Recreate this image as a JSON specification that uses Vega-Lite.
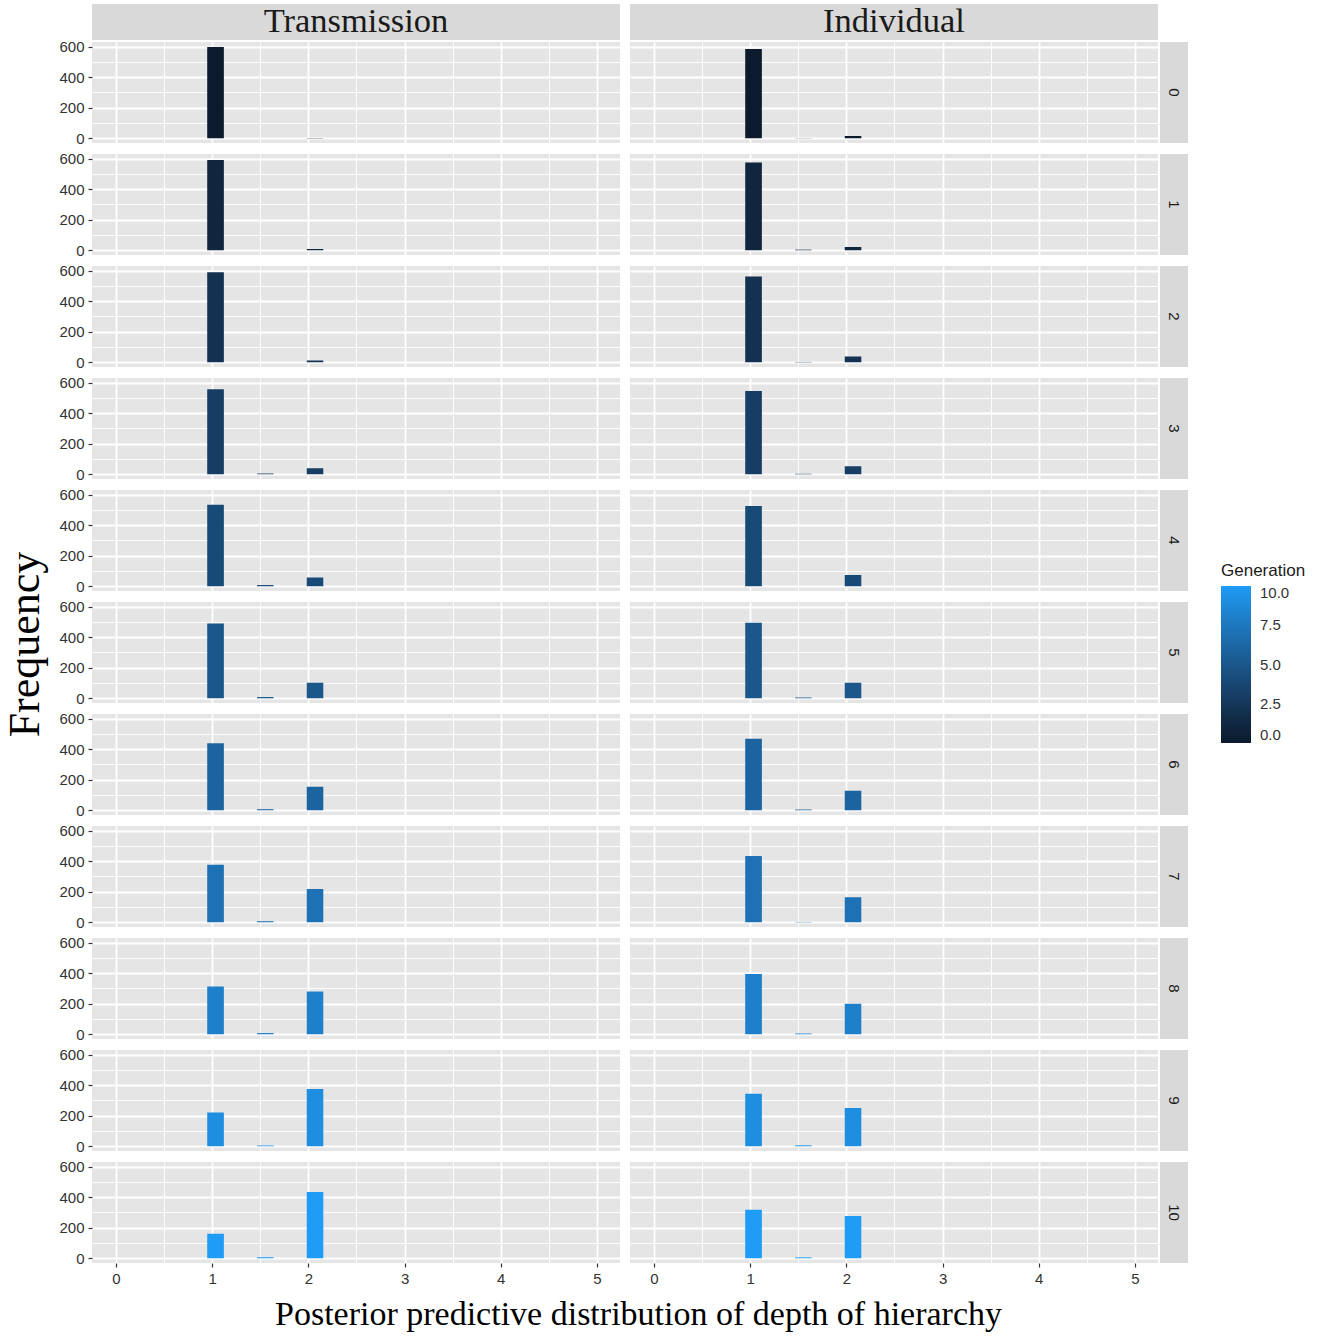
{
  "$schema": "https://vega.github.io/schema/vega-lite/v6.json",
  "background": "white",
  "padding": {"left": 3, "top": 4, "right": 5, "bottom": 5},
  "datasets": {
    "bins": [
      {"panel": "Transmission", "generation": 0, "bin_start": 0.948, "bin_end": 1.121, "count": 598},
      {"panel": "Transmission", "generation": 0, "bin_start": 1.983, "bin_end": 2.155, "count": 2},
      {"panel": "Transmission", "generation": 1, "bin_start": 0.948, "bin_end": 1.121, "count": 591},
      {"panel": "Transmission", "generation": 1, "bin_start": 1.983, "bin_end": 2.155, "count": 9},
      {"panel": "Transmission", "generation": 2, "bin_start": 0.948, "bin_end": 1.121, "count": 589},
      {"panel": "Transmission", "generation": 2, "bin_start": 1.983, "bin_end": 2.155, "count": 11},
      {"panel": "Transmission", "generation": 3, "bin_start": 0.948, "bin_end": 1.121, "count": 556},
      {"panel": "Transmission", "generation": 3, "bin_start": 1.466, "bin_end": 1.638, "count": 5},
      {"panel": "Transmission", "generation": 3, "bin_start": 1.983, "bin_end": 2.155, "count": 39},
      {"panel": "Transmission", "generation": 4, "bin_start": 0.948, "bin_end": 1.121, "count": 534},
      {"panel": "Transmission", "generation": 4, "bin_start": 1.466, "bin_end": 1.638, "count": 8},
      {"panel": "Transmission", "generation": 4, "bin_start": 1.983, "bin_end": 2.155, "count": 58},
      {"panel": "Transmission", "generation": 5, "bin_start": 0.948, "bin_end": 1.121, "count": 490},
      {"panel": "Transmission", "generation": 5, "bin_start": 1.466, "bin_end": 1.638, "count": 8},
      {"panel": "Transmission", "generation": 5, "bin_start": 1.983, "bin_end": 2.155, "count": 102},
      {"panel": "Transmission", "generation": 6, "bin_start": 0.948, "bin_end": 1.121, "count": 439},
      {"panel": "Transmission", "generation": 6, "bin_start": 1.466, "bin_end": 1.638, "count": 7},
      {"panel": "Transmission", "generation": 6, "bin_start": 1.983, "bin_end": 2.155, "count": 154},
      {"panel": "Transmission", "generation": 7, "bin_start": 0.948, "bin_end": 1.121, "count": 376},
      {"panel": "Transmission", "generation": 7, "bin_start": 1.466, "bin_end": 1.638, "count": 7},
      {"panel": "Transmission", "generation": 7, "bin_start": 1.983, "bin_end": 2.155, "count": 217},
      {"panel": "Transmission", "generation": 8, "bin_start": 0.948, "bin_end": 1.121, "count": 312},
      {"panel": "Transmission", "generation": 8, "bin_start": 1.466, "bin_end": 1.638, "count": 8},
      {"panel": "Transmission", "generation": 8, "bin_start": 1.983, "bin_end": 2.155, "count": 280},
      {"panel": "Transmission", "generation": 9, "bin_start": 0.948, "bin_end": 1.121, "count": 221},
      {"panel": "Transmission", "generation": 9, "bin_start": 1.466, "bin_end": 1.638, "count": 5},
      {"panel": "Transmission", "generation": 9, "bin_start": 1.983, "bin_end": 2.155, "count": 374},
      {"panel": "Transmission", "generation": 10, "bin_start": 0.948, "bin_end": 1.121, "count": 160},
      {"panel": "Transmission", "generation": 10, "bin_start": 1.466, "bin_end": 1.638, "count": 7},
      {"panel": "Transmission", "generation": 10, "bin_start": 1.983, "bin_end": 2.155, "count": 433},
      {"panel": "Individual", "generation": 0, "bin_start": 0.948, "bin_end": 1.121, "count": 585},
      {"panel": "Individual", "generation": 0, "bin_start": 1.466, "bin_end": 1.638, "count": 1},
      {"panel": "Individual", "generation": 0, "bin_start": 1.983, "bin_end": 2.155, "count": 14},
      {"panel": "Individual", "generation": 1, "bin_start": 0.948, "bin_end": 1.121, "count": 574},
      {"panel": "Individual", "generation": 1, "bin_start": 1.466, "bin_end": 1.638, "count": 4},
      {"panel": "Individual", "generation": 1, "bin_start": 1.983, "bin_end": 2.155, "count": 22},
      {"panel": "Individual", "generation": 2, "bin_start": 0.948, "bin_end": 1.121, "count": 561},
      {"panel": "Individual", "generation": 2, "bin_start": 1.466, "bin_end": 1.638, "count": 2},
      {"panel": "Individual", "generation": 2, "bin_start": 1.983, "bin_end": 2.155, "count": 37},
      {"panel": "Individual", "generation": 3, "bin_start": 0.948, "bin_end": 1.121, "count": 545},
      {"panel": "Individual", "generation": 3, "bin_start": 1.466, "bin_end": 1.638, "count": 3},
      {"panel": "Individual", "generation": 3, "bin_start": 1.983, "bin_end": 2.155, "count": 52},
      {"panel": "Individual", "generation": 4, "bin_start": 0.948, "bin_end": 1.121, "count": 526},
      {"panel": "Individual", "generation": 4, "bin_start": 1.983, "bin_end": 2.155, "count": 74},
      {"panel": "Individual", "generation": 5, "bin_start": 0.948, "bin_end": 1.121, "count": 494},
      {"panel": "Individual", "generation": 5, "bin_start": 1.466, "bin_end": 1.638, "count": 5},
      {"panel": "Individual", "generation": 5, "bin_start": 1.983, "bin_end": 2.155, "count": 101},
      {"panel": "Individual", "generation": 6, "bin_start": 0.948, "bin_end": 1.121, "count": 468},
      {"panel": "Individual", "generation": 6, "bin_start": 1.466, "bin_end": 1.638, "count": 5},
      {"panel": "Individual", "generation": 6, "bin_start": 1.983, "bin_end": 2.155, "count": 127},
      {"panel": "Individual", "generation": 7, "bin_start": 0.948, "bin_end": 1.121, "count": 434},
      {"panel": "Individual", "generation": 7, "bin_start": 1.466, "bin_end": 1.638, "count": 2},
      {"panel": "Individual", "generation": 7, "bin_start": 1.983, "bin_end": 2.155, "count": 164},
      {"panel": "Individual", "generation": 8, "bin_start": 0.948, "bin_end": 1.121, "count": 395},
      {"panel": "Individual", "generation": 8, "bin_start": 1.466, "bin_end": 1.638, "count": 5},
      {"panel": "Individual", "generation": 8, "bin_start": 1.983, "bin_end": 2.155, "count": 200},
      {"panel": "Individual", "generation": 9, "bin_start": 0.948, "bin_end": 1.121, "count": 343},
      {"panel": "Individual", "generation": 9, "bin_start": 1.466, "bin_end": 1.638, "count": 6},
      {"panel": "Individual", "generation": 9, "bin_start": 1.983, "bin_end": 2.155, "count": 251},
      {"panel": "Individual", "generation": 10, "bin_start": 0.948, "bin_end": 1.121, "count": 318},
      {"panel": "Individual", "generation": 10, "bin_start": 1.466, "bin_end": 1.638, "count": 6},
      {"panel": "Individual", "generation": 10, "bin_start": 1.983, "bin_end": 2.155, "count": 276}
    ]
  },
  "columns": 4,
  "spacing": 2,
  "bounds": "flush",
  "align": "each",
  "concat": [
    {"width": 528, "height": 36, "view": {"fill": "#d9d9d9", "stroke": null}, "data": {"values": [{"label": "Transmission"}]}, "mark": {"type": "text", "font": "Liberation Serif", "fontSize": 34.5, "color": "#1a1a1a"}, "encoding": {"text": {"field": "label"}}},
    {"width": 6, "height": 36, "view": {"fill": null, "stroke": null}, "data": {"values": [{}]}, "mark": {"type": "text", "text": ""}},
    {"width": 528, "height": 36, "view": {"fill": "#d9d9d9", "stroke": null}, "data": {"values": [{"label": "Individual"}]}, "mark": {"type": "text", "font": "Liberation Serif", "fontSize": 34.5, "color": "#1a1a1a"}, "encoding": {"text": {"field": "label"}}},
    {"width": 28, "height": 36, "view": {"fill": null, "stroke": null}, "data": {"values": [{}]}, "mark": {"type": "text", "text": ""}},

    {"width": 528, "height": 101, "data": {"name": "bins"}, "transform": [{"filter": "datum.panel === 'Transmission' && datum.generation === 0"}], "mark": "bar", "encoding": {
      "x": {"field": "bin_start", "type": "quantitative", "scale": {"domain": [-0.25, 5.24], "nice": false, "zero": false}, "axis": {"values": [0, 0.5, 1, 1.5, 2, 2.5, 3, 3.5, 4, 4.5, 5], "labels": false, "ticks": false, "title": null, "gridWidth": {"condition": {"test": "datum.value % 1 === 0", "value": 1.8}, "value": 0.9}}},
      "x2": {"field": "bin_end"},
      "y": {"field": "count", "type": "quantitative", "scale": {"domain": [-31, 630], "nice": false}, "axis": {"values": [0, 100, 200, 300, 400, 500, 600], "labelExpr": "datum.value % 200 === 0 ? datum.label : ''", "tickOpacity": {"condition": {"test": "datum.value % 200 === 0", "value": 1}, "value": 0}, "title": null, "gridWidth": {"condition": {"test": "datum.value % 200 === 0", "value": 1.8}, "value": 0.9}}},
      "y2": {"datum": 0},
      "color": {"field": "generation", "type": "quantitative", "scale": {"domain": [0, 10], "range": ["#0c1a2d", "#1e9cf6"], "interpolate": "lab"}, "title": "Generation", "legend": {"values": [0, 2.5, 5, 7.5, 10], "format": ".1f"}}}},
    {"width": 6, "height": 101, "view": {"fill": null, "stroke": null}, "data": {"values": [{}]}, "mark": {"type": "text", "text": ""}},
    {"width": 528, "height": 101, "data": {"name": "bins"}, "transform": [{"filter": "datum.panel === 'Individual' && datum.generation === 0"}], "mark": "bar", "encoding": {
      "x": {"field": "bin_start", "type": "quantitative", "scale": {"domain": [-0.25, 5.24], "nice": false, "zero": false}, "axis": {"values": [0, 0.5, 1, 1.5, 2, 2.5, 3, 3.5, 4, 4.5, 5], "labels": false, "ticks": false, "title": null, "gridWidth": {"condition": {"test": "datum.value % 1 === 0", "value": 1.8}, "value": 0.9}}},
      "x2": {"field": "bin_end"},
      "y": {"field": "count", "type": "quantitative", "scale": {"domain": [-31, 630], "nice": false}, "axis": {"values": [0, 100, 200, 300, 400, 500, 600], "labels": false, "ticks": false, "title": null, "gridWidth": {"condition": {"test": "datum.value % 200 === 0", "value": 1.8}, "value": 0.9}}},
      "y2": {"datum": 0},
      "color": {"field": "generation", "type": "quantitative", "scale": {"domain": [0, 10], "range": ["#0c1a2d", "#1e9cf6"], "interpolate": "lab"}, "title": "Generation", "legend": {"values": [0, 2.5, 5, 7.5, 10], "format": ".1f"}}}},
    {"width": 28, "height": 101, "view": {"fill": "#d9d9d9", "stroke": null}, "data": {"values": [{"label": "0"}]}, "mark": {"type": "text", "angle": 90, "font": "Liberation Sans", "fontSize": 15, "color": "#1a1a1a"}, "encoding": {"text": {"field": "label"}}},

    {"width": 1, "height": 6.66, "view": {"fill": null, "stroke": null}, "data": {"values": [{}]}, "mark": {"type": "text", "text": ""}},
    {"width": 1, "height": 6.66, "view": {"fill": null, "stroke": null}, "data": {"values": [{}]}, "mark": {"type": "text", "text": ""}},
    {"width": 1, "height": 6.66, "view": {"fill": null, "stroke": null}, "data": {"values": [{}]}, "mark": {"type": "text", "text": ""}},
    {"width": 1, "height": 6.66, "view": {"fill": null, "stroke": null}, "data": {"values": [{}]}, "mark": {"type": "text", "text": ""}},

    {"width": 528, "height": 101, "data": {"name": "bins"}, "transform": [{"filter": "datum.panel === 'Transmission' && datum.generation === 1"}], "mark": "bar", "encoding": {
      "x": {"field": "bin_start", "type": "quantitative", "scale": {"domain": [-0.25, 5.24], "nice": false, "zero": false}, "axis": {"values": [0, 0.5, 1, 1.5, 2, 2.5, 3, 3.5, 4, 4.5, 5], "labels": false, "ticks": false, "title": null, "gridWidth": {"condition": {"test": "datum.value % 1 === 0", "value": 1.8}, "value": 0.9}}},
      "x2": {"field": "bin_end"},
      "y": {"field": "count", "type": "quantitative", "scale": {"domain": [-31, 630], "nice": false}, "axis": {"values": [0, 100, 200, 300, 400, 500, 600], "labelExpr": "datum.value % 200 === 0 ? datum.label : ''", "tickOpacity": {"condition": {"test": "datum.value % 200 === 0", "value": 1}, "value": 0}, "title": null, "gridWidth": {"condition": {"test": "datum.value % 200 === 0", "value": 1.8}, "value": 0.9}}},
      "y2": {"datum": 0},
      "color": {"field": "generation", "type": "quantitative", "scale": {"domain": [0, 10], "range": ["#0c1a2d", "#1e9cf6"], "interpolate": "lab"}, "title": "Generation", "legend": {"values": [0, 2.5, 5, 7.5, 10], "format": ".1f"}}}},
    {"width": 6, "height": 101, "view": {"fill": null, "stroke": null}, "data": {"values": [{}]}, "mark": {"type": "text", "text": ""}},
    {"width": 528, "height": 101, "data": {"name": "bins"}, "transform": [{"filter": "datum.panel === 'Individual' && datum.generation === 1"}], "mark": "bar", "encoding": {
      "x": {"field": "bin_start", "type": "quantitative", "scale": {"domain": [-0.25, 5.24], "nice": false, "zero": false}, "axis": {"values": [0, 0.5, 1, 1.5, 2, 2.5, 3, 3.5, 4, 4.5, 5], "labels": false, "ticks": false, "title": null, "gridWidth": {"condition": {"test": "datum.value % 1 === 0", "value": 1.8}, "value": 0.9}}},
      "x2": {"field": "bin_end"},
      "y": {"field": "count", "type": "quantitative", "scale": {"domain": [-31, 630], "nice": false}, "axis": {"values": [0, 100, 200, 300, 400, 500, 600], "labels": false, "ticks": false, "title": null, "gridWidth": {"condition": {"test": "datum.value % 200 === 0", "value": 1.8}, "value": 0.9}}},
      "y2": {"datum": 0},
      "color": {"field": "generation", "type": "quantitative", "scale": {"domain": [0, 10], "range": ["#0c1a2d", "#1e9cf6"], "interpolate": "lab"}, "title": "Generation", "legend": {"values": [0, 2.5, 5, 7.5, 10], "format": ".1f"}}}},
    {"width": 28, "height": 101, "view": {"fill": "#d9d9d9", "stroke": null}, "data": {"values": [{"label": "1"}]}, "mark": {"type": "text", "angle": 90, "font": "Liberation Sans", "fontSize": 15, "color": "#1a1a1a"}, "encoding": {"text": {"field": "label"}}},

    {"width": 1, "height": 6.66, "view": {"fill": null, "stroke": null}, "data": {"values": [{}]}, "mark": {"type": "text", "text": ""}},
    {"width": 1, "height": 6.66, "view": {"fill": null, "stroke": null}, "data": {"values": [{}]}, "mark": {"type": "text", "text": ""}},
    {"width": 1, "height": 6.66, "view": {"fill": null, "stroke": null}, "data": {"values": [{}]}, "mark": {"type": "text", "text": ""}},
    {"width": 1, "height": 6.66, "view": {"fill": null, "stroke": null}, "data": {"values": [{}]}, "mark": {"type": "text", "text": ""}},

    {"width": 528, "height": 101, "data": {"name": "bins"}, "transform": [{"filter": "datum.panel === 'Transmission' && datum.generation === 2"}], "mark": "bar", "encoding": {
      "x": {"field": "bin_start", "type": "quantitative", "scale": {"domain": [-0.25, 5.24], "nice": false, "zero": false}, "axis": {"values": [0, 0.5, 1, 1.5, 2, 2.5, 3, 3.5, 4, 4.5, 5], "labels": false, "ticks": false, "title": null, "gridWidth": {"condition": {"test": "datum.value % 1 === 0", "value": 1.8}, "value": 0.9}}},
      "x2": {"field": "bin_end"},
      "y": {"field": "count", "type": "quantitative", "scale": {"domain": [-31, 630], "nice": false}, "axis": {"values": [0, 100, 200, 300, 400, 500, 600], "labelExpr": "datum.value % 200 === 0 ? datum.label : ''", "tickOpacity": {"condition": {"test": "datum.value % 200 === 0", "value": 1}, "value": 0}, "title": null, "gridWidth": {"condition": {"test": "datum.value % 200 === 0", "value": 1.8}, "value": 0.9}}},
      "y2": {"datum": 0},
      "color": {"field": "generation", "type": "quantitative", "scale": {"domain": [0, 10], "range": ["#0c1a2d", "#1e9cf6"], "interpolate": "lab"}, "title": "Generation", "legend": {"values": [0, 2.5, 5, 7.5, 10], "format": ".1f"}}}},
    {"width": 6, "height": 101, "view": {"fill": null, "stroke": null}, "data": {"values": [{}]}, "mark": {"type": "text", "text": ""}},
    {"width": 528, "height": 101, "data": {"name": "bins"}, "transform": [{"filter": "datum.panel === 'Individual' && datum.generation === 2"}], "mark": "bar", "encoding": {
      "x": {"field": "bin_start", "type": "quantitative", "scale": {"domain": [-0.25, 5.24], "nice": false, "zero": false}, "axis": {"values": [0, 0.5, 1, 1.5, 2, 2.5, 3, 3.5, 4, 4.5, 5], "labels": false, "ticks": false, "title": null, "gridWidth": {"condition": {"test": "datum.value % 1 === 0", "value": 1.8}, "value": 0.9}}},
      "x2": {"field": "bin_end"},
      "y": {"field": "count", "type": "quantitative", "scale": {"domain": [-31, 630], "nice": false}, "axis": {"values": [0, 100, 200, 300, 400, 500, 600], "labels": false, "ticks": false, "title": null, "gridWidth": {"condition": {"test": "datum.value % 200 === 0", "value": 1.8}, "value": 0.9}}},
      "y2": {"datum": 0},
      "color": {"field": "generation", "type": "quantitative", "scale": {"domain": [0, 10], "range": ["#0c1a2d", "#1e9cf6"], "interpolate": "lab"}, "title": "Generation", "legend": {"values": [0, 2.5, 5, 7.5, 10], "format": ".1f"}}}},
    {"width": 28, "height": 101, "view": {"fill": "#d9d9d9", "stroke": null}, "data": {"values": [{"label": "2"}]}, "mark": {"type": "text", "angle": 90, "font": "Liberation Sans", "fontSize": 15, "color": "#1a1a1a"}, "encoding": {"text": {"field": "label"}}},

    {"width": 1, "height": 6.66, "view": {"fill": null, "stroke": null}, "data": {"values": [{}]}, "mark": {"type": "text", "text": ""}},
    {"width": 1, "height": 6.66, "view": {"fill": null, "stroke": null}, "data": {"values": [{}]}, "mark": {"type": "text", "text": ""}},
    {"width": 1, "height": 6.66, "view": {"fill": null, "stroke": null}, "data": {"values": [{}]}, "mark": {"type": "text", "text": ""}},
    {"width": 1, "height": 6.66, "view": {"fill": null, "stroke": null}, "data": {"values": [{}]}, "mark": {"type": "text", "text": ""}},

    {"width": 528, "height": 101, "data": {"name": "bins"}, "transform": [{"filter": "datum.panel === 'Transmission' && datum.generation === 3"}], "mark": "bar", "encoding": {
      "x": {"field": "bin_start", "type": "quantitative", "scale": {"domain": [-0.25, 5.24], "nice": false, "zero": false}, "axis": {"values": [0, 0.5, 1, 1.5, 2, 2.5, 3, 3.5, 4, 4.5, 5], "labels": false, "ticks": false, "title": null, "gridWidth": {"condition": {"test": "datum.value % 1 === 0", "value": 1.8}, "value": 0.9}}},
      "x2": {"field": "bin_end"},
      "y": {"field": "count", "type": "quantitative", "scale": {"domain": [-31, 630], "nice": false}, "axis": {"values": [0, 100, 200, 300, 400, 500, 600], "labelExpr": "datum.value % 200 === 0 ? datum.label : ''", "tickOpacity": {"condition": {"test": "datum.value % 200 === 0", "value": 1}, "value": 0}, "title": null, "gridWidth": {"condition": {"test": "datum.value % 200 === 0", "value": 1.8}, "value": 0.9}}},
      "y2": {"datum": 0},
      "color": {"field": "generation", "type": "quantitative", "scale": {"domain": [0, 10], "range": ["#0c1a2d", "#1e9cf6"], "interpolate": "lab"}, "title": "Generation", "legend": {"values": [0, 2.5, 5, 7.5, 10], "format": ".1f"}}}},
    {"width": 6, "height": 101, "view": {"fill": null, "stroke": null}, "data": {"values": [{}]}, "mark": {"type": "text", "text": ""}},
    {"width": 528, "height": 101, "data": {"name": "bins"}, "transform": [{"filter": "datum.panel === 'Individual' && datum.generation === 3"}], "mark": "bar", "encoding": {
      "x": {"field": "bin_start", "type": "quantitative", "scale": {"domain": [-0.25, 5.24], "nice": false, "zero": false}, "axis": {"values": [0, 0.5, 1, 1.5, 2, 2.5, 3, 3.5, 4, 4.5, 5], "labels": false, "ticks": false, "title": null, "gridWidth": {"condition": {"test": "datum.value % 1 === 0", "value": 1.8}, "value": 0.9}}},
      "x2": {"field": "bin_end"},
      "y": {"field": "count", "type": "quantitative", "scale": {"domain": [-31, 630], "nice": false}, "axis": {"values": [0, 100, 200, 300, 400, 500, 600], "labels": false, "ticks": false, "title": null, "gridWidth": {"condition": {"test": "datum.value % 200 === 0", "value": 1.8}, "value": 0.9}}},
      "y2": {"datum": 0},
      "color": {"field": "generation", "type": "quantitative", "scale": {"domain": [0, 10], "range": ["#0c1a2d", "#1e9cf6"], "interpolate": "lab"}, "title": "Generation", "legend": {"values": [0, 2.5, 5, 7.5, 10], "format": ".1f"}}}},
    {"width": 28, "height": 101, "view": {"fill": "#d9d9d9", "stroke": null}, "data": {"values": [{"label": "3"}]}, "mark": {"type": "text", "angle": 90, "font": "Liberation Sans", "fontSize": 15, "color": "#1a1a1a"}, "encoding": {"text": {"field": "label"}}},

    {"width": 1, "height": 6.66, "view": {"fill": null, "stroke": null}, "data": {"values": [{}]}, "mark": {"type": "text", "text": ""}},
    {"width": 1, "height": 6.66, "view": {"fill": null, "stroke": null}, "data": {"values": [{}]}, "mark": {"type": "text", "text": ""}},
    {"width": 1, "height": 6.66, "view": {"fill": null, "stroke": null}, "data": {"values": [{}]}, "mark": {"type": "text", "text": ""}},
    {"width": 1, "height": 6.66, "view": {"fill": null, "stroke": null}, "data": {"values": [{}]}, "mark": {"type": "text", "text": ""}},

    {"width": 528, "height": 101, "data": {"name": "bins"}, "transform": [{"filter": "datum.panel === 'Transmission' && datum.generation === 4"}], "mark": "bar", "encoding": {
      "x": {"field": "bin_start", "type": "quantitative", "scale": {"domain": [-0.25, 5.24], "nice": false, "zero": false}, "axis": {"values": [0, 0.5, 1, 1.5, 2, 2.5, 3, 3.5, 4, 4.5, 5], "labels": false, "ticks": false, "title": null, "gridWidth": {"condition": {"test": "datum.value % 1 === 0", "value": 1.8}, "value": 0.9}}},
      "x2": {"field": "bin_end"},
      "y": {"field": "count", "type": "quantitative", "scale": {"domain": [-31, 630], "nice": false}, "axis": {"values": [0, 100, 200, 300, 400, 500, 600], "labelExpr": "datum.value % 200 === 0 ? datum.label : ''", "tickOpacity": {"condition": {"test": "datum.value % 200 === 0", "value": 1}, "value": 0}, "title": null, "gridWidth": {"condition": {"test": "datum.value % 200 === 0", "value": 1.8}, "value": 0.9}}},
      "y2": {"datum": 0},
      "color": {"field": "generation", "type": "quantitative", "scale": {"domain": [0, 10], "range": ["#0c1a2d", "#1e9cf6"], "interpolate": "lab"}, "title": "Generation", "legend": {"values": [0, 2.5, 5, 7.5, 10], "format": ".1f"}}}},
    {"width": 6, "height": 101, "view": {"fill": null, "stroke": null}, "data": {"values": [{}]}, "mark": {"type": "text", "text": ""}},
    {"width": 528, "height": 101, "data": {"name": "bins"}, "transform": [{"filter": "datum.panel === 'Individual' && datum.generation === 4"}], "mark": "bar", "encoding": {
      "x": {"field": "bin_start", "type": "quantitative", "scale": {"domain": [-0.25, 5.24], "nice": false, "zero": false}, "axis": {"values": [0, 0.5, 1, 1.5, 2, 2.5, 3, 3.5, 4, 4.5, 5], "labels": false, "ticks": false, "title": null, "gridWidth": {"condition": {"test": "datum.value % 1 === 0", "value": 1.8}, "value": 0.9}}},
      "x2": {"field": "bin_end"},
      "y": {"field": "count", "type": "quantitative", "scale": {"domain": [-31, 630], "nice": false}, "axis": {"values": [0, 100, 200, 300, 400, 500, 600], "labels": false, "ticks": false, "title": null, "gridWidth": {"condition": {"test": "datum.value % 200 === 0", "value": 1.8}, "value": 0.9}}},
      "y2": {"datum": 0},
      "color": {"field": "generation", "type": "quantitative", "scale": {"domain": [0, 10], "range": ["#0c1a2d", "#1e9cf6"], "interpolate": "lab"}, "title": "Generation", "legend": {"values": [0, 2.5, 5, 7.5, 10], "format": ".1f"}}}},
    {"width": 28, "height": 101, "view": {"fill": "#d9d9d9", "stroke": null}, "data": {"values": [{"label": "4"}]}, "mark": {"type": "text", "angle": 90, "font": "Liberation Sans", "fontSize": 15, "color": "#1a1a1a"}, "encoding": {"text": {"field": "label"}}},

    {"width": 1, "height": 6.66, "view": {"fill": null, "stroke": null}, "data": {"values": [{}]}, "mark": {"type": "text", "text": ""}},
    {"width": 1, "height": 6.66, "view": {"fill": null, "stroke": null}, "data": {"values": [{}]}, "mark": {"type": "text", "text": ""}},
    {"width": 1, "height": 6.66, "view": {"fill": null, "stroke": null}, "data": {"values": [{}]}, "mark": {"type": "text", "text": ""}},
    {"width": 1, "height": 6.66, "view": {"fill": null, "stroke": null}, "data": {"values": [{}]}, "mark": {"type": "text", "text": ""}},

    {"width": 528, "height": 101, "data": {"name": "bins"}, "transform": [{"filter": "datum.panel === 'Transmission' && datum.generation === 5"}], "mark": "bar", "encoding": {
      "x": {"field": "bin_start", "type": "quantitative", "scale": {"domain": [-0.25, 5.24], "nice": false, "zero": false}, "axis": {"values": [0, 0.5, 1, 1.5, 2, 2.5, 3, 3.5, 4, 4.5, 5], "labels": false, "ticks": false, "title": null, "gridWidth": {"condition": {"test": "datum.value % 1 === 0", "value": 1.8}, "value": 0.9}}},
      "x2": {"field": "bin_end"},
      "y": {"field": "count", "type": "quantitative", "scale": {"domain": [-31, 630], "nice": false}, "axis": {"values": [0, 100, 200, 300, 400, 500, 600], "labelExpr": "datum.value % 200 === 0 ? datum.label : ''", "tickOpacity": {"condition": {"test": "datum.value % 200 === 0", "value": 1}, "value": 0}, "title": "Frequency", "titleFont": "Liberation Serif", "titleFontSize": 44, "titleFontWeight": "normal", "titleColor": "#000000", "titlePadding": 11, "titleY": 42, "gridWidth": {"condition": {"test": "datum.value % 200 === 0", "value": 1.8}, "value": 0.9}}},
      "y2": {"datum": 0},
      "color": {"field": "generation", "type": "quantitative", "scale": {"domain": [0, 10], "range": ["#0c1a2d", "#1e9cf6"], "interpolate": "lab"}, "title": "Generation", "legend": {"values": [0, 2.5, 5, 7.5, 10], "format": ".1f"}}}},
    {"width": 6, "height": 101, "view": {"fill": null, "stroke": null}, "data": {"values": [{}]}, "mark": {"type": "text", "text": ""}},
    {"width": 528, "height": 101, "data": {"name": "bins"}, "transform": [{"filter": "datum.panel === 'Individual' && datum.generation === 5"}], "mark": "bar", "encoding": {
      "x": {"field": "bin_start", "type": "quantitative", "scale": {"domain": [-0.25, 5.24], "nice": false, "zero": false}, "axis": {"values": [0, 0.5, 1, 1.5, 2, 2.5, 3, 3.5, 4, 4.5, 5], "labels": false, "ticks": false, "title": null, "gridWidth": {"condition": {"test": "datum.value % 1 === 0", "value": 1.8}, "value": 0.9}}},
      "x2": {"field": "bin_end"},
      "y": {"field": "count", "type": "quantitative", "scale": {"domain": [-31, 630], "nice": false}, "axis": {"values": [0, 100, 200, 300, 400, 500, 600], "labels": false, "ticks": false, "title": null, "gridWidth": {"condition": {"test": "datum.value % 200 === 0", "value": 1.8}, "value": 0.9}}},
      "y2": {"datum": 0},
      "color": {"field": "generation", "type": "quantitative", "scale": {"domain": [0, 10], "range": ["#0c1a2d", "#1e9cf6"], "interpolate": "lab"}, "title": "Generation", "legend": {"values": [0, 2.5, 5, 7.5, 10], "format": ".1f"}}}},
    {"width": 28, "height": 101, "view": {"fill": "#d9d9d9", "stroke": null}, "data": {"values": [{"label": "5"}]}, "mark": {"type": "text", "angle": 90, "font": "Liberation Sans", "fontSize": 15, "color": "#1a1a1a"}, "encoding": {"text": {"field": "label"}}},

    {"width": 1, "height": 6.66, "view": {"fill": null, "stroke": null}, "data": {"values": [{}]}, "mark": {"type": "text", "text": ""}},
    {"width": 1, "height": 6.66, "view": {"fill": null, "stroke": null}, "data": {"values": [{}]}, "mark": {"type": "text", "text": ""}},
    {"width": 1, "height": 6.66, "view": {"fill": null, "stroke": null}, "data": {"values": [{}]}, "mark": {"type": "text", "text": ""}},
    {"width": 1, "height": 6.66, "view": {"fill": null, "stroke": null}, "data": {"values": [{}]}, "mark": {"type": "text", "text": ""}},

    {"width": 528, "height": 101, "data": {"name": "bins"}, "transform": [{"filter": "datum.panel === 'Transmission' && datum.generation === 6"}], "mark": "bar", "encoding": {
      "x": {"field": "bin_start", "type": "quantitative", "scale": {"domain": [-0.25, 5.24], "nice": false, "zero": false}, "axis": {"values": [0, 0.5, 1, 1.5, 2, 2.5, 3, 3.5, 4, 4.5, 5], "labels": false, "ticks": false, "title": null, "gridWidth": {"condition": {"test": "datum.value % 1 === 0", "value": 1.8}, "value": 0.9}}},
      "x2": {"field": "bin_end"},
      "y": {"field": "count", "type": "quantitative", "scale": {"domain": [-31, 630], "nice": false}, "axis": {"values": [0, 100, 200, 300, 400, 500, 600], "labelExpr": "datum.value % 200 === 0 ? datum.label : ''", "tickOpacity": {"condition": {"test": "datum.value % 200 === 0", "value": 1}, "value": 0}, "title": null, "gridWidth": {"condition": {"test": "datum.value % 200 === 0", "value": 1.8}, "value": 0.9}}},
      "y2": {"datum": 0},
      "color": {"field": "generation", "type": "quantitative", "scale": {"domain": [0, 10], "range": ["#0c1a2d", "#1e9cf6"], "interpolate": "lab"}, "title": "Generation", "legend": {"values": [0, 2.5, 5, 7.5, 10], "format": ".1f"}}}},
    {"width": 6, "height": 101, "view": {"fill": null, "stroke": null}, "data": {"values": [{}]}, "mark": {"type": "text", "text": ""}},
    {"width": 528, "height": 101, "data": {"name": "bins"}, "transform": [{"filter": "datum.panel === 'Individual' && datum.generation === 6"}], "mark": "bar", "encoding": {
      "x": {"field": "bin_start", "type": "quantitative", "scale": {"domain": [-0.25, 5.24], "nice": false, "zero": false}, "axis": {"values": [0, 0.5, 1, 1.5, 2, 2.5, 3, 3.5, 4, 4.5, 5], "labels": false, "ticks": false, "title": null, "gridWidth": {"condition": {"test": "datum.value % 1 === 0", "value": 1.8}, "value": 0.9}}},
      "x2": {"field": "bin_end"},
      "y": {"field": "count", "type": "quantitative", "scale": {"domain": [-31, 630], "nice": false}, "axis": {"values": [0, 100, 200, 300, 400, 500, 600], "labels": false, "ticks": false, "title": null, "gridWidth": {"condition": {"test": "datum.value % 200 === 0", "value": 1.8}, "value": 0.9}}},
      "y2": {"datum": 0},
      "color": {"field": "generation", "type": "quantitative", "scale": {"domain": [0, 10], "range": ["#0c1a2d", "#1e9cf6"], "interpolate": "lab"}, "title": "Generation", "legend": {"values": [0, 2.5, 5, 7.5, 10], "format": ".1f"}}}},
    {"width": 28, "height": 101, "view": {"fill": "#d9d9d9", "stroke": null}, "data": {"values": [{"label": "6"}]}, "mark": {"type": "text", "angle": 90, "font": "Liberation Sans", "fontSize": 15, "color": "#1a1a1a"}, "encoding": {"text": {"field": "label"}}},

    {"width": 1, "height": 6.66, "view": {"fill": null, "stroke": null}, "data": {"values": [{}]}, "mark": {"type": "text", "text": ""}},
    {"width": 1, "height": 6.66, "view": {"fill": null, "stroke": null}, "data": {"values": [{}]}, "mark": {"type": "text", "text": ""}},
    {"width": 1, "height": 6.66, "view": {"fill": null, "stroke": null}, "data": {"values": [{}]}, "mark": {"type": "text", "text": ""}},
    {"width": 1, "height": 6.66, "view": {"fill": null, "stroke": null}, "data": {"values": [{}]}, "mark": {"type": "text", "text": ""}},

    {"width": 528, "height": 101, "data": {"name": "bins"}, "transform": [{"filter": "datum.panel === 'Transmission' && datum.generation === 7"}], "mark": "bar", "encoding": {
      "x": {"field": "bin_start", "type": "quantitative", "scale": {"domain": [-0.25, 5.24], "nice": false, "zero": false}, "axis": {"values": [0, 0.5, 1, 1.5, 2, 2.5, 3, 3.5, 4, 4.5, 5], "labels": false, "ticks": false, "title": null, "gridWidth": {"condition": {"test": "datum.value % 1 === 0", "value": 1.8}, "value": 0.9}}},
      "x2": {"field": "bin_end"},
      "y": {"field": "count", "type": "quantitative", "scale": {"domain": [-31, 630], "nice": false}, "axis": {"values": [0, 100, 200, 300, 400, 500, 600], "labelExpr": "datum.value % 200 === 0 ? datum.label : ''", "tickOpacity": {"condition": {"test": "datum.value % 200 === 0", "value": 1}, "value": 0}, "title": null, "gridWidth": {"condition": {"test": "datum.value % 200 === 0", "value": 1.8}, "value": 0.9}}},
      "y2": {"datum": 0},
      "color": {"field": "generation", "type": "quantitative", "scale": {"domain": [0, 10], "range": ["#0c1a2d", "#1e9cf6"], "interpolate": "lab"}, "title": "Generation", "legend": {"values": [0, 2.5, 5, 7.5, 10], "format": ".1f"}}}},
    {"width": 6, "height": 101, "view": {"fill": null, "stroke": null}, "data": {"values": [{}]}, "mark": {"type": "text", "text": ""}},
    {"width": 528, "height": 101, "data": {"name": "bins"}, "transform": [{"filter": "datum.panel === 'Individual' && datum.generation === 7"}], "mark": "bar", "encoding": {
      "x": {"field": "bin_start", "type": "quantitative", "scale": {"domain": [-0.25, 5.24], "nice": false, "zero": false}, "axis": {"values": [0, 0.5, 1, 1.5, 2, 2.5, 3, 3.5, 4, 4.5, 5], "labels": false, "ticks": false, "title": null, "gridWidth": {"condition": {"test": "datum.value % 1 === 0", "value": 1.8}, "value": 0.9}}},
      "x2": {"field": "bin_end"},
      "y": {"field": "count", "type": "quantitative", "scale": {"domain": [-31, 630], "nice": false}, "axis": {"values": [0, 100, 200, 300, 400, 500, 600], "labels": false, "ticks": false, "title": null, "gridWidth": {"condition": {"test": "datum.value % 200 === 0", "value": 1.8}, "value": 0.9}}},
      "y2": {"datum": 0},
      "color": {"field": "generation", "type": "quantitative", "scale": {"domain": [0, 10], "range": ["#0c1a2d", "#1e9cf6"], "interpolate": "lab"}, "title": "Generation", "legend": {"values": [0, 2.5, 5, 7.5, 10], "format": ".1f"}}}},
    {"width": 28, "height": 101, "view": {"fill": "#d9d9d9", "stroke": null}, "data": {"values": [{"label": "7"}]}, "mark": {"type": "text", "angle": 90, "font": "Liberation Sans", "fontSize": 15, "color": "#1a1a1a"}, "encoding": {"text": {"field": "label"}}},

    {"width": 1, "height": 6.66, "view": {"fill": null, "stroke": null}, "data": {"values": [{}]}, "mark": {"type": "text", "text": ""}},
    {"width": 1, "height": 6.66, "view": {"fill": null, "stroke": null}, "data": {"values": [{}]}, "mark": {"type": "text", "text": ""}},
    {"width": 1, "height": 6.66, "view": {"fill": null, "stroke": null}, "data": {"values": [{}]}, "mark": {"type": "text", "text": ""}},
    {"width": 1, "height": 6.66, "view": {"fill": null, "stroke": null}, "data": {"values": [{}]}, "mark": {"type": "text", "text": ""}},

    {"width": 528, "height": 101, "data": {"name": "bins"}, "transform": [{"filter": "datum.panel === 'Transmission' && datum.generation === 8"}], "mark": "bar", "encoding": {
      "x": {"field": "bin_start", "type": "quantitative", "scale": {"domain": [-0.25, 5.24], "nice": false, "zero": false}, "axis": {"values": [0, 0.5, 1, 1.5, 2, 2.5, 3, 3.5, 4, 4.5, 5], "labels": false, "ticks": false, "title": null, "gridWidth": {"condition": {"test": "datum.value % 1 === 0", "value": 1.8}, "value": 0.9}}},
      "x2": {"field": "bin_end"},
      "y": {"field": "count", "type": "quantitative", "scale": {"domain": [-31, 630], "nice": false}, "axis": {"values": [0, 100, 200, 300, 400, 500, 600], "labelExpr": "datum.value % 200 === 0 ? datum.label : ''", "tickOpacity": {"condition": {"test": "datum.value % 200 === 0", "value": 1}, "value": 0}, "title": null, "gridWidth": {"condition": {"test": "datum.value % 200 === 0", "value": 1.8}, "value": 0.9}}},
      "y2": {"datum": 0},
      "color": {"field": "generation", "type": "quantitative", "scale": {"domain": [0, 10], "range": ["#0c1a2d", "#1e9cf6"], "interpolate": "lab"}, "title": "Generation", "legend": {"values": [0, 2.5, 5, 7.5, 10], "format": ".1f"}}}},
    {"width": 6, "height": 101, "view": {"fill": null, "stroke": null}, "data": {"values": [{}]}, "mark": {"type": "text", "text": ""}},
    {"width": 528, "height": 101, "data": {"name": "bins"}, "transform": [{"filter": "datum.panel === 'Individual' && datum.generation === 8"}], "mark": "bar", "encoding": {
      "x": {"field": "bin_start", "type": "quantitative", "scale": {"domain": [-0.25, 5.24], "nice": false, "zero": false}, "axis": {"values": [0, 0.5, 1, 1.5, 2, 2.5, 3, 3.5, 4, 4.5, 5], "labels": false, "ticks": false, "title": null, "gridWidth": {"condition": {"test": "datum.value % 1 === 0", "value": 1.8}, "value": 0.9}}},
      "x2": {"field": "bin_end"},
      "y": {"field": "count", "type": "quantitative", "scale": {"domain": [-31, 630], "nice": false}, "axis": {"values": [0, 100, 200, 300, 400, 500, 600], "labels": false, "ticks": false, "title": null, "gridWidth": {"condition": {"test": "datum.value % 200 === 0", "value": 1.8}, "value": 0.9}}},
      "y2": {"datum": 0},
      "color": {"field": "generation", "type": "quantitative", "scale": {"domain": [0, 10], "range": ["#0c1a2d", "#1e9cf6"], "interpolate": "lab"}, "title": "Generation", "legend": {"values": [0, 2.5, 5, 7.5, 10], "format": ".1f"}}}},
    {"width": 28, "height": 101, "view": {"fill": "#d9d9d9", "stroke": null}, "data": {"values": [{"label": "8"}]}, "mark": {"type": "text", "angle": 90, "font": "Liberation Sans", "fontSize": 15, "color": "#1a1a1a"}, "encoding": {"text": {"field": "label"}}},

    {"width": 1, "height": 6.66, "view": {"fill": null, "stroke": null}, "data": {"values": [{}]}, "mark": {"type": "text", "text": ""}},
    {"width": 1, "height": 6.66, "view": {"fill": null, "stroke": null}, "data": {"values": [{}]}, "mark": {"type": "text", "text": ""}},
    {"width": 1, "height": 6.66, "view": {"fill": null, "stroke": null}, "data": {"values": [{}]}, "mark": {"type": "text", "text": ""}},
    {"width": 1, "height": 6.66, "view": {"fill": null, "stroke": null}, "data": {"values": [{}]}, "mark": {"type": "text", "text": ""}},

    {"width": 528, "height": 101, "data": {"name": "bins"}, "transform": [{"filter": "datum.panel === 'Transmission' && datum.generation === 9"}], "mark": "bar", "encoding": {
      "x": {"field": "bin_start", "type": "quantitative", "scale": {"domain": [-0.25, 5.24], "nice": false, "zero": false}, "axis": {"values": [0, 0.5, 1, 1.5, 2, 2.5, 3, 3.5, 4, 4.5, 5], "labels": false, "ticks": false, "title": null, "gridWidth": {"condition": {"test": "datum.value % 1 === 0", "value": 1.8}, "value": 0.9}}},
      "x2": {"field": "bin_end"},
      "y": {"field": "count", "type": "quantitative", "scale": {"domain": [-31, 630], "nice": false}, "axis": {"values": [0, 100, 200, 300, 400, 500, 600], "labelExpr": "datum.value % 200 === 0 ? datum.label : ''", "tickOpacity": {"condition": {"test": "datum.value % 200 === 0", "value": 1}, "value": 0}, "title": null, "gridWidth": {"condition": {"test": "datum.value % 200 === 0", "value": 1.8}, "value": 0.9}}},
      "y2": {"datum": 0},
      "color": {"field": "generation", "type": "quantitative", "scale": {"domain": [0, 10], "range": ["#0c1a2d", "#1e9cf6"], "interpolate": "lab"}, "title": "Generation", "legend": {"values": [0, 2.5, 5, 7.5, 10], "format": ".1f"}}}},
    {"width": 6, "height": 101, "view": {"fill": null, "stroke": null}, "data": {"values": [{}]}, "mark": {"type": "text", "text": ""}},
    {"width": 528, "height": 101, "data": {"name": "bins"}, "transform": [{"filter": "datum.panel === 'Individual' && datum.generation === 9"}], "mark": "bar", "encoding": {
      "x": {"field": "bin_start", "type": "quantitative", "scale": {"domain": [-0.25, 5.24], "nice": false, "zero": false}, "axis": {"values": [0, 0.5, 1, 1.5, 2, 2.5, 3, 3.5, 4, 4.5, 5], "labels": false, "ticks": false, "title": null, "gridWidth": {"condition": {"test": "datum.value % 1 === 0", "value": 1.8}, "value": 0.9}}},
      "x2": {"field": "bin_end"},
      "y": {"field": "count", "type": "quantitative", "scale": {"domain": [-31, 630], "nice": false}, "axis": {"values": [0, 100, 200, 300, 400, 500, 600], "labels": false, "ticks": false, "title": null, "gridWidth": {"condition": {"test": "datum.value % 200 === 0", "value": 1.8}, "value": 0.9}}},
      "y2": {"datum": 0},
      "color": {"field": "generation", "type": "quantitative", "scale": {"domain": [0, 10], "range": ["#0c1a2d", "#1e9cf6"], "interpolate": "lab"}, "title": "Generation", "legend": {"values": [0, 2.5, 5, 7.5, 10], "format": ".1f"}}}},
    {"width": 28, "height": 101, "view": {"fill": "#d9d9d9", "stroke": null}, "data": {"values": [{"label": "9"}]}, "mark": {"type": "text", "angle": 90, "font": "Liberation Sans", "fontSize": 15, "color": "#1a1a1a"}, "encoding": {"text": {"field": "label"}}},

    {"width": 1, "height": 6.66, "view": {"fill": null, "stroke": null}, "data": {"values": [{}]}, "mark": {"type": "text", "text": ""}},
    {"width": 1, "height": 6.66, "view": {"fill": null, "stroke": null}, "data": {"values": [{}]}, "mark": {"type": "text", "text": ""}},
    {"width": 1, "height": 6.66, "view": {"fill": null, "stroke": null}, "data": {"values": [{}]}, "mark": {"type": "text", "text": ""}},
    {"width": 1, "height": 6.66, "view": {"fill": null, "stroke": null}, "data": {"values": [{}]}, "mark": {"type": "text", "text": ""}},

    {"width": 528, "height": 101, "data": {"name": "bins"}, "transform": [{"filter": "datum.panel === 'Transmission' && datum.generation === 10"}], "mark": "bar", "encoding": {
      "x": {"field": "bin_start", "type": "quantitative", "scale": {"domain": [-0.25, 5.24], "nice": false, "zero": false}, "axis": {"values": [0, 0.5, 1, 1.5, 2, 2.5, 3, 3.5, 4, 4.5, 5], "format": "~g", "labelExpr": "datum.value % 1 === 0 ? datum.label : ''", "tickOpacity": {"condition": {"test": "datum.value % 1 === 0", "value": 1}, "value": 0}, "title": "Posterior predictive distribution of depth of hierarchy", "titleFont": "Liberation Serif", "titleFontSize": 34, "titleFontWeight": "normal", "titleColor": "#000000", "titleX": 546, "titleAlign": "center", "titlePadding": 11, "gridWidth": {"condition": {"test": "datum.value % 1 === 0", "value": 1.8}, "value": 0.9}}},
      "x2": {"field": "bin_end"},
      "y": {"field": "count", "type": "quantitative", "scale": {"domain": [-31, 630], "nice": false}, "axis": {"values": [0, 100, 200, 300, 400, 500, 600], "labelExpr": "datum.value % 200 === 0 ? datum.label : ''", "tickOpacity": {"condition": {"test": "datum.value % 200 === 0", "value": 1}, "value": 0}, "title": null, "gridWidth": {"condition": {"test": "datum.value % 200 === 0", "value": 1.8}, "value": 0.9}}},
      "y2": {"datum": 0},
      "color": {"field": "generation", "type": "quantitative", "scale": {"domain": [0, 10], "range": ["#0c1a2d", "#1e9cf6"], "interpolate": "lab"}, "title": "Generation", "legend": {"values": [0, 2.5, 5, 7.5, 10], "format": ".1f"}}}},
    {"width": 6, "height": 101, "view": {"fill": null, "stroke": null}, "data": {"values": [{}]}, "mark": {"type": "text", "text": ""}},
    {"width": 528, "height": 101, "data": {"name": "bins"}, "transform": [{"filter": "datum.panel === 'Individual' && datum.generation === 10"}], "mark": "bar", "encoding": {
      "x": {"field": "bin_start", "type": "quantitative", "scale": {"domain": [-0.25, 5.24], "nice": false, "zero": false}, "axis": {"values": [0, 0.5, 1, 1.5, 2, 2.5, 3, 3.5, 4, 4.5, 5], "format": "~g", "labelExpr": "datum.value % 1 === 0 ? datum.label : ''", "tickOpacity": {"condition": {"test": "datum.value % 1 === 0", "value": 1}, "value": 0}, "title": null, "gridWidth": {"condition": {"test": "datum.value % 1 === 0", "value": 1.8}, "value": 0.9}}},
      "x2": {"field": "bin_end"},
      "y": {"field": "count", "type": "quantitative", "scale": {"domain": [-31, 630], "nice": false}, "axis": {"values": [0, 100, 200, 300, 400, 500, 600], "labels": false, "ticks": false, "title": null, "gridWidth": {"condition": {"test": "datum.value % 200 === 0", "value": 1.8}, "value": 0.9}}},
      "y2": {"datum": 0},
      "color": {"field": "generation", "type": "quantitative", "scale": {"domain": [0, 10], "range": ["#0c1a2d", "#1e9cf6"], "interpolate": "lab"}, "title": "Generation", "legend": {"values": [0, 2.5, 5, 7.5, 10], "format": ".1f"}}}},
    {"width": 28, "height": 101, "view": {"fill": "#d9d9d9", "stroke": null}, "data": {"values": [{"label": "10"}]}, "mark": {"type": "text", "angle": 90, "font": "Liberation Sans", "fontSize": 15, "color": "#1a1a1a"}, "encoding": {"text": {"field": "label"}}}
  ],
  "config": {
    "view": {"fill": "#e5e5e5", "stroke": null},
    "axis": {"gridColor": "#ffffff", "domain": false, "labelFont": "Liberation Sans", "labelFontSize": 15, "labelColor": "#333333", "tickColor": "#333333", "tickSize": 4, "tickWidth": 1.2, "labelPadding": 4, "labelOverlap": false, "labelFlush": false},
    "legend": {"orient": "none", "legendX": 1129, "legendY": 559, "titleFont": "Liberation Sans", "titleFontSize": 17, "titleFontWeight": "normal", "titleColor": "#1a1a1a", "labelFont": "Liberation Sans", "labelFontSize": 15, "labelColor": "#333333", "gradientLabelOffset": 9, "gradientLength": 157, "gradientThickness": 30, "gradientStrokeWidth": 0, "direction": "vertical", "titlePadding": 6}
  }
}
